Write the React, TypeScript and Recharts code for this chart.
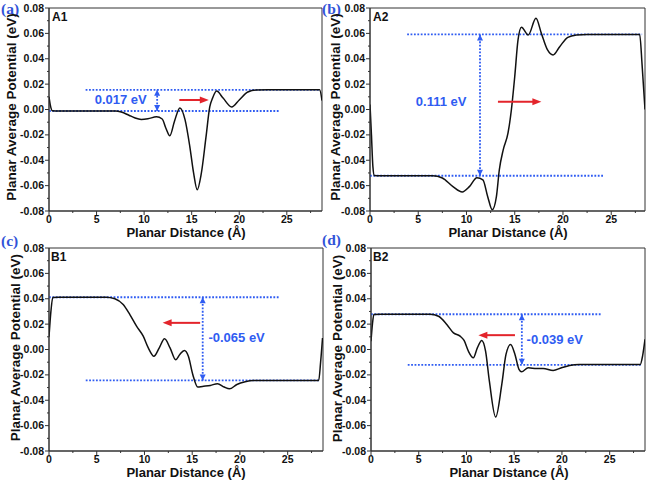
import React from 'react';
import {
  LineChart,
  Line,
  XAxis,
  YAxis,
  ReferenceLine,
  ReferenceArea,
  ReferenceDot,
} from 'recharts';

// planar average potential curves, one pair of arrays per panel
const distA = [0, 0.15, 0.35, 1, 7, 7.6, 8.4, 9.0, 9.7, 10.4, 11.3, 11.9, 12.3, 12.7, 13.2, 13.76, 14.3, 14.8, 15.2, 15.58, 16.0, 16.5, 16.9, 17.2, 17.62, 18.3, 19.2, 20.0, 20.9, 21.8, 23, 28.45, 28.7];
const potA = [0.01, 0.003, -0.001, -0.0012, -0.0012, -0.002, -0.0045, -0.0065, -0.0078, -0.0073, -0.0058, -0.0075, -0.015, -0.0207, -0.009, 0.0012, -0.008, -0.029, -0.05, -0.0633, -0.051, -0.022, 0.002, 0.009, 0.0145, 0.009, 0.002, 0.0075, 0.0138, 0.0154, 0.0155, 0.0155, 0.007];

const distB = [0, 0.15, 0.3, 0.45, 1, 6.5, 7.5, 8.6, 9.56, 10.3, 11.08, 11.7, 12.2, 12.67, 13.1, 13.4, 13.8, 14.3, 14.65, 15.0, 15.34, 15.7, 16.4, 17.2, 17.76, 18.4, 18.97, 19.66, 20.5, 21.4, 22.5, 27.95, 28.2, 28.5];
const potB = [0.004, -0.02, -0.045, -0.052, -0.0522, -0.0522, -0.054, -0.0608, -0.065, -0.0608, -0.0537, -0.0555, -0.0687, -0.079, -0.0687, -0.0477, -0.032, -0.0187, -0.0004, 0.0259, 0.0548, 0.0648, 0.0587, 0.0719, 0.06, 0.0469, 0.043, 0.0495, 0.0569, 0.0587, 0.0592, 0.0592, 0.035, 0.0];

const distC = [0, 0.2, 0.4, 1, 6, 6.9, 7.77, 8.47, 9.17, 9.87, 10.4, 10.99, 11.55, 12.1, 12.68, 13.27, 13.7, 14.18, 14.6, 15.06, 15.58, 16.07, 16.9, 17.65, 18.35, 18.9, 19.68, 20.55, 21.4, 22.5, 28.25, 28.45, 28.65];
const potC = [0.01, 0.03, 0.041, 0.0412, 0.0412, 0.04, 0.0354, 0.0275, 0.0184, 0.0105, 0.0013, -0.0053, 0.0013, 0.0084, 0.0013, -0.0081, -0.0039, -0.0008, -0.0053, -0.0197, -0.0296, -0.0291, -0.0283, -0.027, -0.0296, -0.031, -0.0276, -0.0255, -0.0245, -0.0244, -0.0244, -0.01, 0.009];

const distD = [0, 0.15, 0.3, 1, 6.2, 7.07, 7.94, 8.64, 9.33, 9.75, 10.2, 10.72, 11.14, 11.6, 12.0, 12.4, 13.06, 13.7, 14.14, 14.62, 15.08, 15.5, 15.77, 16.47, 17.34, 18.04, 19.08, 19.95, 20.8, 21.8, 28.2, 28.45, 28.7];
const potD = [0.0065, 0.02, 0.0275, 0.0278, 0.0278, 0.0262, 0.0197, 0.0131, 0.0105, 0.0071, -0.0013, -0.0066, 0.0013, 0.0071, -0.0013, -0.025, -0.0533, -0.0275, -0.0039, 0.0039, -0.0039, -0.0157, -0.0176, -0.0144, -0.015, -0.015, -0.0165, -0.0144, -0.0126, -0.0118, -0.0118, -0.005, 0.008];

const tagLabels = ['(a)', '(b)', '(c)', '(d)'];
const sampleLabels = ['A1', 'A2', 'B1', 'B2'];
const shiftLabels = ['0.017 eV', '0.111 eV', '-0.065 eV', '-0.039 eV'];
const xMaxes = [28.7, 28.5, 28.7, 28.7];

// dotted plateau levels (left side / right side) and the annotations
const leftLevels = [-0.0012, -0.0522, 0.0412, 0.0278];
const rightLevels = [0.0155, 0.0592, -0.0244, -0.0121];
const shiftArrowX = [11.37, 11.4, 16.1, 15.8];
const shiftLabelX = [4.8, 4.75, 16.7, 16.3];
const shiftLabelY = [0.0075, 0.0062, 0.0092, 0.0078];
const redFrom = [13.7, 13.26, 15.83, 15.08];
const redTo = [16.8, 17.76, 11.9, 11.25];
const redY = [0.0075, 0.0062, 0.021, 0.0113];

const yTicks = [-8, -7, -6, -5, -4, -3, -2, -1, 0, 1, 2, 3, 4, 5, 6, 7, 8].map((i) => i / 100);
const xTicks = [0, 2.5, 5, 7.5, 10, 12.5, 15, 17.5, 20, 22.5, 25, 27.5];

const FONT = '"Liberation Sans", Arial, sans-serif';
const BLUE = '#2f5cf2';
const RED = '#e3242b';
const AXIS = '#333';

const curves = [
  [distA, potA],
  [distB, potB],
  [distC, potC],
  [distD, potD],
];

// layout of each panel on the page
const boxes = [
  { left: 0, top: 0, w: 330, h: 241, mTop: 8, mRight: 8, yW: 49, xH: 30 },
  { left: 320, top: 0, w: 327, h: 241, mTop: 8, mRight: 2, yW: 50, xH: 30 },
  { left: 0, top: 241, w: 330, h: 241, mTop: 7, mRight: 7, yW: 49, xH: 31 },
  { left: 320, top: 241, w: 327, h: 241, mTop: 7, mRight: 2, yW: 51, xH: 31 },
];

const YTick = (props: any) => {
  const { x, y, payload } = props;
  const v = payload.value;
  const major = Math.round(v * 100) % 2 === 0;
  return (
    <g>
      <line x1={x - (major ? 4 : 2)} x2={x} y1={y} y2={y} stroke={AXIS} strokeWidth={1} />
      {major && (
        <text x={x - 5} y={y} dy={3.6} textAnchor="end" fontSize={10.5} fontWeight="bold" fontFamily={FONT} fill="#111">
          {v.toFixed(2)}
        </text>
      )}
    </g>
  );
};

const XTick = (props: any) => {
  const { x, y, payload } = props;
  const v = payload.value;
  const major = v % 5 === 0;
  return (
    <g>
      <line x1={x} x2={x} y1={y} y2={y + (major ? 4 : 2)} stroke={AXIS} strokeWidth={1} />
      {major && (
        <text x={x} y={y + 12} textAnchor="middle" fontSize={10.5} fontWeight="bold" fontFamily={FONT} fill="#111">
          {v}
        </text>
      )}
    </g>
  );
};

const arrowShape = (color: string, dotted: boolean, both: boolean) => (p: any) => {
  const { x1, y1, x2, y2 } = p;
  const dx = x2 - x1;
  const dy = y2 - y1;
  const len = Math.hypot(dx, dy) || 1;
  const ux = dx / len;
  const uy = dy / len;
  const hl = both ? 6 : 9;
  const hw = both ? 3 : 3.5;
  const head = (tx: number, ty: number, ax: number, ay: number) =>
    `${tx},${ty} ${tx - ax * hl - ay * hw},${ty - ay * hl + ax * hw} ${tx - ax * hl + ay * hw},${ty - ay * hl - ax * hw}`;
  return (
    <g>
      <line
        x1={x1}
        y1={y1}
        x2={x2 - ux * (both ? 0 : hl - 1)}
        y2={y2 - uy * (both ? 0 : hl - 1)}
        stroke={color}
        strokeWidth={dotted ? 1.8 : 2}
        strokeDasharray={dotted ? '1.8 1.6' : undefined}
      />
      <polygon points={head(x2, y2, ux, uy)} fill={color} />
      {both && <polygon points={head(x1, y1, -ux, -uy)} fill={color} />}
    </g>
  );
};

function Panel({ i }: { i: number }) {
  const b = boxes[i];
  const [xs, ys] = curves[i];
  const data = xs.map((x, k) => ({ x, v: ys[k] }));
  const xMax = xMaxes[i];
  return (
    <div style={{ position: 'absolute', left: b.left, top: b.top }}>
      <LineChart
        width={b.w}
        height={b.h}
        data={data}
        margin={{ top: b.mTop, right: b.mRight, left: 0, bottom: 0 }}
      >
        <XAxis
          dataKey="x"
          type="number"
          domain={[0, xMax]}
          ticks={xTicks}
          interval={0}
          allowDataOverflow
          height={b.xH}
          tickSize={0}
          tickMargin={0}
          tickLine={false}
          tick={<XTick />}
          stroke={AXIS}
        />
        <YAxis
          type="number"
          domain={[-0.08, 0.08]}
          ticks={yTicks}
          interval={0}
          allowDataOverflow
          width={b.yW}
          tickSize={0}
          tickMargin={0}
          tickLine={false}
          tick={<YTick />}
          stroke={AXIS}
        />
        <ReferenceArea x1={0} x2={xMax} y1={-0.08} y2={0.08} fill="none" stroke={AXIS} strokeWidth={1} />
        <ReferenceLine
          segment={[{ x: 0, y: leftLevels[i] }, { x: 24.2, y: leftLevels[i] }]}
          stroke={BLUE}
          strokeWidth={1.8}
          strokeDasharray="1.8 1.6"
        />
        <ReferenceLine
          segment={[{ x: 3.85, y: rightLevels[i] }, { x: xMax - 0.3, y: rightLevels[i] }]}
          stroke={BLUE}
          strokeWidth={1.8}
          strokeDasharray="1.8 1.6"
        />
        <Line
          type="monotone"
          dataKey="v"
          stroke="#111"
          strokeWidth={1.5}
          dot={false}
          isAnimationActive={false}
        />
        <ReferenceLine
          segment={[{ x: shiftArrowX[i], y: leftLevels[i] }, { x: shiftArrowX[i], y: rightLevels[i] }]}
          shape={arrowShape(BLUE, true, true)}
        />
        <ReferenceLine
          segment={[{ x: redFrom[i], y: redY[i] }, { x: redTo[i], y: redY[i] }]}
          shape={arrowShape(RED, false, false)}
        />
        <ReferenceDot
          x={shiftLabelX[i]}
          y={shiftLabelY[i]}
          shape={(p: any) => (
            <text x={p.cx} y={p.cy} dy={4.5} fill={BLUE} fontSize={13} fontWeight="bold" fontFamily={FONT}>
              {shiftLabels[i]}
            </text>
          )}
        />
      </LineChart>
    </div>
  );
}

// page positions of the titles and panel tags
const tagPos = [
  [1, 13.5],
  [322, 13.5],
  [1, 246],
  [322, 244.5],
];
const samplePos = [
  [52, 20.5],
  [373, 20.5],
  [51, 260.5],
  [373, 261],
];
const yTitlePos = [
  [11.7, 107],
  [335.7, 107],
  [15.3, 347.7],
  [337.7, 348.5],
];
const xTitlePos = [
  [186, 237],
  [508, 236.5],
  [186, 476.5],
  [509, 476.5],
];

export default function App() {
  return (
    <div style={{ position: 'absolute', left: 0, top: 0, width: 647, height: 482, background: '#fff' }}>
      {[0, 1, 2, 3].map((i) => (
        <Panel key={i} i={i} />
      ))}
      <svg width={647} height={482} style={{ position: 'absolute', left: 0, top: 0, pointerEvents: 'none' }}>
        {[0, 1, 2, 3].map((i) => (
          <g key={i}>
            <text
              x={tagPos[i][0]}
              y={tagPos[i][1]}
              fontFamily='"Liberation Serif", "Times New Roman", serif'
              fontWeight="bold"
              fontSize={15.5}
              fill="#3153d8"
            >
              {tagLabels[i]}
            </text>
            <text x={samplePos[i][0]} y={samplePos[i][1]} fontFamily={FONT} fontWeight="bold" fontSize={12} fill="#111">
              {sampleLabels[i]}
            </text>
            <text
              x={yTitlePos[i][0]}
              y={yTitlePos[i][1]}
              transform={`rotate(-90 ${yTitlePos[i][0]} ${yTitlePos[i][1]})`}
              textAnchor="middle"
              dominantBaseline="central"
              fontFamily={FONT}
              fontWeight="bold"
              fontSize={13.5}
              fill="#111"
            >
              Planar Average Potential (eV)
            </text>
            <text
              x={xTitlePos[i][0]}
              y={xTitlePos[i][1]}
              textAnchor="middle"
              fontFamily={FONT}
              fontWeight="bold"
              fontSize={13}
              fill="#111"
            >
              Planar Distance (Å)
            </text>
          </g>
        ))}
      </svg>
    </div>
  );
}
